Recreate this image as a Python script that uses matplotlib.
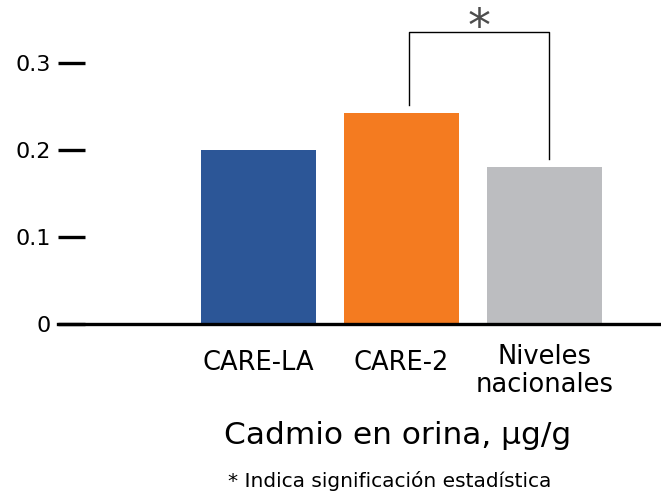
import matplotlib.pyplot as plt
import matplotlib.transforms as mtransforms

# datos
categorias = ["CARE-LA", "CARE-2", "Niveles\nnacionales"]
valores = [0.20, 0.2425, 0.18]
colores = ["#2c5697", "#f47b20", "#bcbdc0"]
yticks = [0, 0.1, 0.2, 0.3]
ytick_labels = ["0", "0.1", "0.2", "0.3"]

plt.rcParams["font.family"] = ["DejaVu Sans"]

fig = plt.figure(figsize=(6.61, 4.96), dpi=100)
ax = fig.add_axes([58 / 661, 172 / 496, 603 / 661, 324 / 496])

x = list(range(len(categorias)))
ax.bar(x, valores, width=0.804, color=colores)

ax.set_xlim(-1.402, 2.815)
ax.set_ylim(0, 324 / 870)

# ejes
for s in ["top", "right", "left"]:
    ax.spines[s].set_visible(False)
ax.spines["bottom"].set_linewidth(2.4)
ax.spines["bottom"].set_color("black")

ax.set_yticks(yticks, ytick_labels)
ax.tick_params(axis="y", direction="in", length=19.5, width=2.4, pad=5,
               labelsize=16, color="black")
ax.set_xticks(x, categorias)
ax.tick_params(axis="x", length=0, pad=28, labelsize=18.5)
for lab in ax.get_xticklabels():
    lab.set_verticalalignment("center")
    lab.set_linespacing(1.1)
# la etiqueta de dos lineas va un poco mas abajo
lab = ax.get_xticklabels()[2]
lab.set_transform(lab.get_transform() + mtransforms.ScaledTranslation(0, -0.08, fig.dpi_scale_trans))

# significancia
i, j = 1, 2
y_top = max(valores) + 0.093
ax.plot([i + 0.05, i + 0.05, j + 0.035, j + 0.035],
        [valores[i] + 0.009, y_top, y_top, valores[j] + 0.01],
        color="black", lw=1.0, clip_on=False)
ax.text((i + j) / 2 + 0.04, y_top + 0.004, "*", ha="center", va="center",
        fontsize=33, color="#4d4d4d", clip_on=False)

fig.text(398 / 661, 1 - 436 / 496, "Cadmio en orina, µg/g", ha="center", va="center", fontsize=22.5)
fig.text(390 / 661, 1 - 481 / 496, "* Indica significación estadística", ha="center", va="center", fontsize=14.5)

plt.savefig("out.png", dpi=100)
